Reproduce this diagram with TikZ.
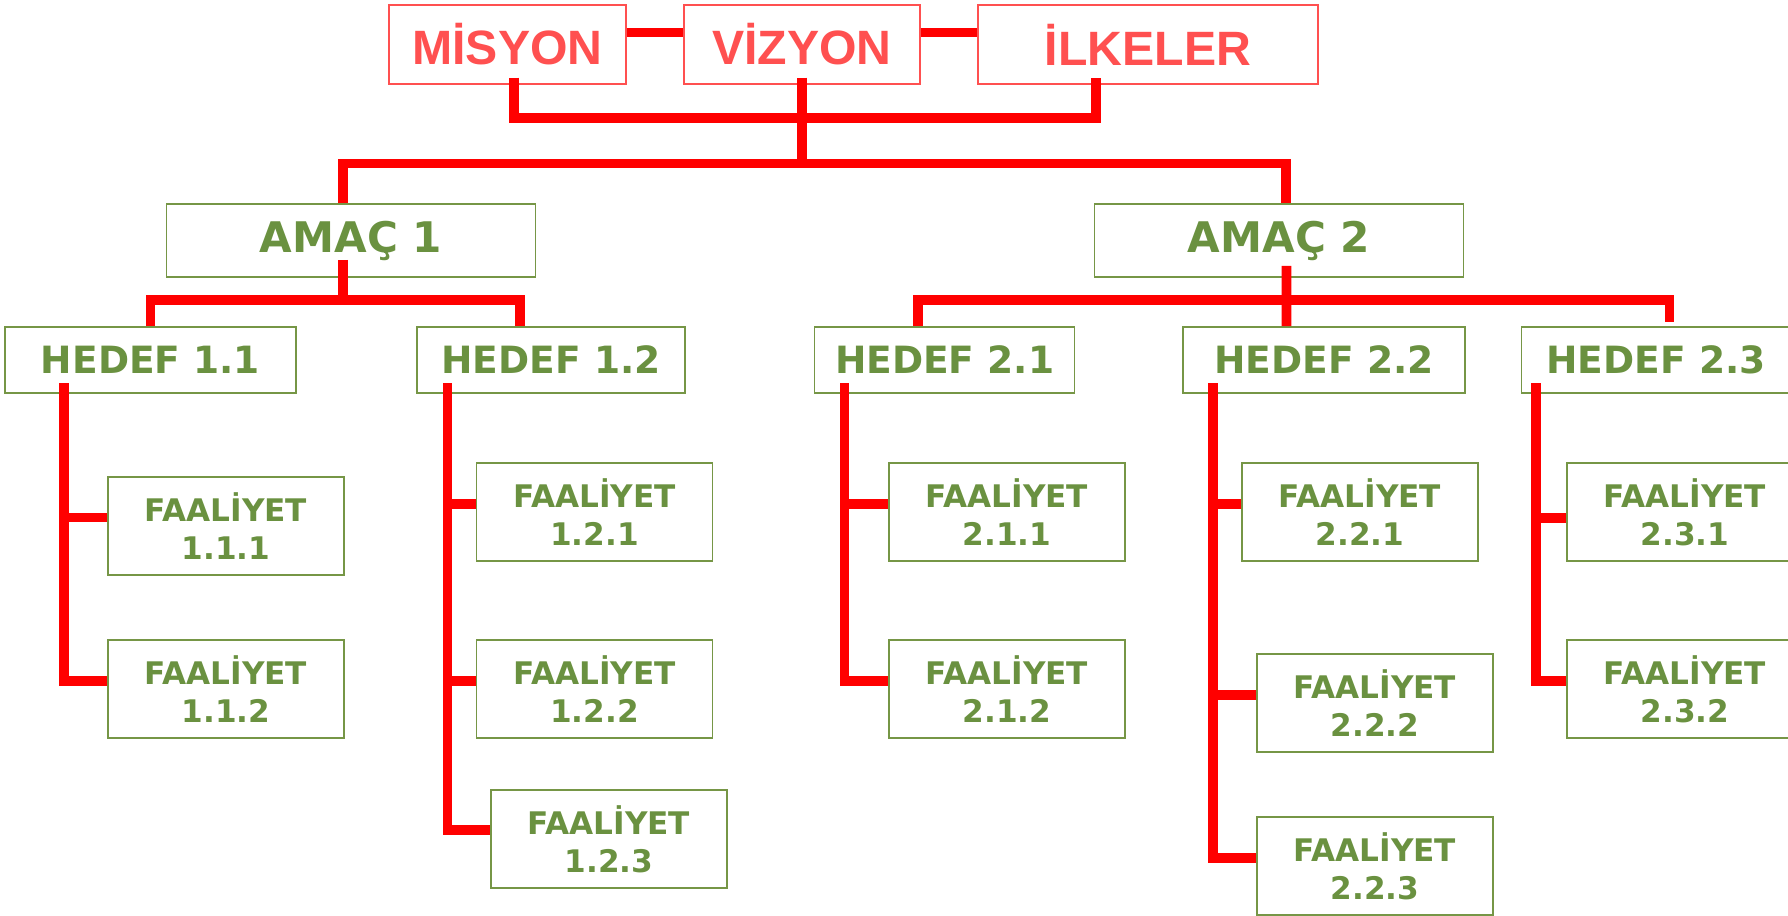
\documentclass[tikz,border=0pt]{standalone}
\usepackage{fontspec}
\setmainfont{DejaVu Sans}
\newfontfamily\headfont{Liberation Sans}
\usepackage{tikz}
\usetikzlibrary{calc}

\definecolor{headred}{RGB}{255,80,80}
\definecolor{leafgreen}{RGB}{106,145,64}
\definecolor{boxgreen}{RGB}{118,150,70}
\definecolor{linkred}{RGB}{255,0,0}

\begin{document}
\begin{tikzpicture}[
    x=0.0175cm, y=-0.0175cm,
    every node/.style={inner sep=0pt, align=center},
    headbox/.style={rectangle, draw=headred, line width=0.8pt, minimum height=1.38cm, text=headred, font=\headfont\bfseries\fontsize{24}{28}\selectfont},
    goalbox/.style={rectangle, draw=boxgreen, line width=0.8pt, minimum width=6.46cm, minimum height=1.28cm, text=leafgreen, font=\bfseries\fontsize{21}{25}\selectfont},
    targetbox/.style={rectangle, draw=boxgreen, line width=0.8pt, minimum height=1.155cm, text=leafgreen, font=\bfseries\fontsize{18.7}{22}\selectfont},
    taskbox/.style={rectangle, draw=boxgreen, line width=0.8pt, minimum width=4.13cm, minimum height=1.72cm, text=leafgreen, font=\bfseries\fontsize{15.5}{18.9}\selectfont},
    link/.style={draw=linkred, line width=4.8pt}
]
\useasboundingbox (0,0) rectangle (1788,915);

% top row
\node (misyon) [headbox, minimum width=4.15cm] at (507.5,44.5) {MİSYON};
\node (vizyon) [headbox, minimum width=4.13cm] at (802,44.5) {VİZYON};
\node (ilkeler) [headbox, minimum width=5.95cm] at (1148,44.5) {İLKELER};

% goals and targets
\node (amac1) [goalbox] at (351,240.5) {AMAÇ 1};
\node (amac2) [goalbox] at (1279,240.5) {AMAÇ 2};
\node (hedef11) [targetbox, minimum width=5.09cm] at (150.5,360) {HEDEF 1.1};
\node (hedef12) [targetbox, minimum width=4.69cm] at (551,360) {HEDEF 1.2};
\node (hedef21) [targetbox, minimum width=4.55cm] at (944.6,360) {HEDEF 2.1};
\node (hedef22) [targetbox, minimum width=4.94cm] at (1324,360) {HEDEF 2.2};
\node (hedef23) [targetbox, minimum width=4.71cm] at (1656,360) {HEDEF 2.3};

% activities
\foreach \n/\x/\y/\t in {111/226/526/1.1.1, 112/226/689/1.1.2,
    121/594.5/512/1.2.1, 122/594.5/689/1.2.2, 123/609/839/1.2.3,
    211/1007/512/2.1.1, 212/1007/689/2.1.2,
    221/1360/512/2.2.1, 222/1375/703/2.2.2, 223/1375/866/2.2.3,
    231/1685/512/2.3.1, 232/1685/689/2.3.2}
  \node (faal\n) [taskbox] at (\x,\y) {FAALİYET\\\t};

% connectors
\draw [link] ([yshift=0.21cm]misyon.east) -- ([yshift=0.21cm]vizyon.west);
\draw [link] ([yshift=0.21cm]vizyon.east) -- ([yshift=0.21cm]ilkeler.west);
\coordinate (topbar) at (802,118);
\coordinate (mainbar) at (802,163.5);
\draw [link] ($(misyon.south)+(6.5,-7)$) |- (topbar) -| ($(ilkeler.south)+(-52,-7)$);
\draw [link] ($(vizyon.south)+(0,-7)$) -- (mainbar);
\draw [link] ($(amac1.north)+(-8,0)$) |- (mainbar) -| ($(amac2.north)+(7,0)$);

\coordinate (bar1) at (343,300);
\draw [link] ($(amac1.south)+(-8,-18)$) -- (bar1);
\draw [link] (hedef11.north) |- (bar1) -| ($(hedef12.north)+(-31,0)$);

\coordinate (bar2) at (1286.5,300);
\draw [link] ($(amac2.south)+(7.5,-12)$) -- ($(hedef22.north)+(-37.5,0)$);
\draw [link] ($(hedef21.north)+(-26.6,0)$) |- (bar2) -| ($(hedef23.north)+(13.5,-4)$);

% trunks under the targets
\coordinate (t11) at ($(hedef11.south)+(-86.5,-11)$);
\coordinate (t12) at ($(hedef12.south)+(-103.5,-11)$);
\coordinate (t21) at ($(hedef21.south)+(-100,-11)$);
\coordinate (t22) at ($(hedef22.south)+(-111,-11)$);
\coordinate (t23) at ($(hedef23.south)+(-120,-11)$);
\foreach \f/\t/\s in {faal111/t11/0.15cm, faal112/t11/0.14cm,
    faal121/t12/0.14cm, faal122/t12/0.14cm, faal123/t12/0.16cm,
    faal211/t21/0.14cm, faal212/t21/0.14cm,
    faal221/t22/0.14cm, faal222/t22/0.14cm, faal223/t22/0.14cm,
    faal231/t23/-0.1cm, faal232/t23/0.14cm}
  \draw [link] ([yshift=\s]\f.west) -| (\t);
\end{tikzpicture}
\end{document}
